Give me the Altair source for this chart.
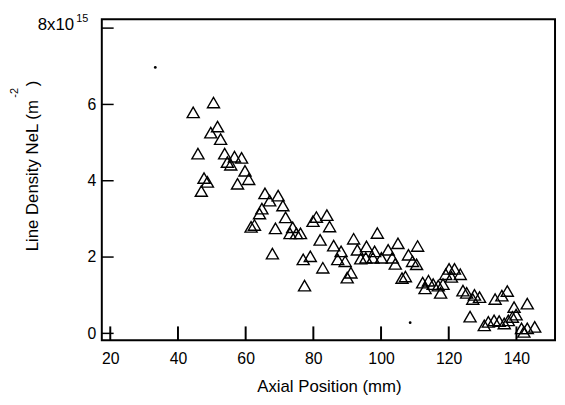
import altair as alt
import pandas as pd

# Triangles: axial position (mm) and line density (x10^15 m^-2)
pos_mm = [50.5, 44.5, 51.7, 49.7, 52.6, 45.9, 53.8, 56.7, 58.8, 54.6, 55.6, 59.8, 60.9, 57.6,
          47.7, 48.7, 46.9, 65.7, 69.6, 67.1, 71.0, 64.8, 64.1, 71.8, 62.6, 61.6, 68.8, 73.9,
          73.1, 75.0, 76.2, 67.9, 77.4, 80.9, 84.0, 79.9, 84.8, 98.9, 82.0, 91.9, 86.0, 105.0,
          110.8, 88.2, 93.0, 95.7, 98.1, 102.1, 77.0, 79.1, 87.2, 89.4, 94.0, 95.5, 97.6, 100.1,
          103.3, 108.1, 109.3, 110.5, 104.2, 82.8, 91.1, 90.0, 106.2, 107.2, 120.1, 121.7, 119.1,
          120.8, 123.4, 112.3, 114.0, 115.4, 116.9, 118.3, 113.0, 117.6, 124.2, 125.3, 127.6,
          129.1, 127.1, 133.7, 135.7, 137.3, 143.2, 139.3, 139.9, 138.8, 126.3, 130.5, 131.7,
          133.4, 134.9, 136.4, 137.6, 141.5, 143.2, 145.4, 142.2]
density = [6.05, 5.79, 5.42, 5.26, 5.09, 4.71, 4.71, 4.63, 4.60, 4.49, 4.42, 4.26, 4.04, 3.92,
           4.07, 3.97, 3.73, 3.67, 3.61, 3.48, 3.35, 3.27, 3.14, 3.04, 2.84, 2.79, 2.75, 2.78,
           2.62, 2.62, 2.62, 2.09, 1.25, 3.05, 3.10, 2.94, 2.80, 2.63, 2.45, 2.48, 2.30, 2.36,
           2.29, 2.15, 2.19, 2.28, 2.15, 2.19, 1.94, 2.02, 1.94, 1.89, 1.96, 1.98, 1.98, 1.98,
           1.98, 2.06, 1.89, 1.81, 1.82, 1.72, 1.59, 1.46, 1.45, 1.49, 1.69, 1.69, 1.55,
           1.48, 1.55, 1.33, 1.38, 1.29, 1.25, 1.29, 1.18, 1.06, 1.12, 1.06, 1.01,
           0.95, 0.90, 0.90, 0.99, 1.11, 0.78, 0.69, 0.49, 0.43, 0.44, 0.21, 0.30,
           0.34, 0.32, 0.26, 0.34, 0.13, 0.13, 0.17, 0.04]

# stray specks in the scan
speck_x = [33.3, 108.6]
speck_y = [6.97, 0.28]

x_ticks = [20, 40, 60, 80, 100, 120, 140]
y_ticks = [0, 2, 4, 6, 8]
y_labels = [0, 2, 4, 6]

W, H = 459, 325
xs = alt.Scale(domain=[17.5, 151.4], nice=False, zero=False)
ys = alt.Scale(domain=[-0.18, 8.23], nice=False, zero=False)

pts = pd.DataFrame({"x": pos_mm, "y": density})
specks = pd.DataFrame({"x": speck_x, "y": speck_y})
xt = pd.DataFrame({"x": x_ticks})
yt = pd.DataFrame({"y": y_ticks})
top = pd.DataFrame({"y": [8], "base": ["8x10"], "sup": ["15"]})

x_axis = alt.Axis(values=x_ticks, title="Axial Position (mm)", ticks=False, domain=False, grid=False,
                  labelFontSize=16, labelPadding=11, labelColor="black",
                  titleFontSize=17, titleFontWeight="normal", titleColor="black",
                  titleX=230, titleY=52, titleBaseline="alphabetic", titleAnchor="middle")
y_axis = alt.Axis(values=y_labels, title="Line Density NeL (m\u00a0\u00a0\u00a0)", ticks=False,
                  domain=False, grid=False, labelFontSize=16, labelPadding=6, labelColor="black",
                  titleFontSize=17, titleFontWeight="normal", titleColor="black",
                  titleX=-65, titleY=148, titleAngle=270, titleBaseline="alphabetic",
                  titleAlign="center")

X = alt.X("x:Q", scale=xs, axis=x_axis)
Y = alt.Y("y:Q", scale=ys, axis=y_axis)

points = alt.Chart(pts).mark_point(shape="triangle-up", filled=False, size=150,
                                   stroke="black", strokeWidth=1.4, opacity=1).encode(x=X, y=Y)

speck_layer = alt.Chart(specks).mark_circle(size=8, color="black", opacity=1).encode(x=X, y=Y)

xtick_layer = alt.Chart(xt).mark_rule(color="black", strokeWidth=2).encode(
    x=X, y=alt.value(H), y2=alt.value(H - 14),
)

ytick_layer = alt.Chart(yt).mark_rule(color="black", strokeWidth=1.5).encode(
    y=Y, x=alt.value(0), x2=alt.value(12),
)

top_base = alt.Chart(top).mark_text(align="right", baseline="middle", fontSize=17, dy=-3,
                                    color="black").encode(
    y=Y, x=alt.value(-28), text="base:N",
)
top_sup = alt.Chart(top).mark_text(align="left", baseline="alphabetic", fontSize=11, dy=-6,
                                   color="black").encode(
    y=Y, x=alt.value(-26), text="sup:N",
)
title_sup = alt.Chart(pd.DataFrame({"t": ["-2"]})).mark_text(
    angle=270, align="center", baseline="middle", fontSize=11, color="black").encode(
    x=alt.value(-87.5), y=alt.value(74.5), text="t:N",
)

chart = alt.layer(points, speck_layer, xtick_layer, ytick_layer, top_base, top_sup, title_sup).properties(
    width=W, height=H,
    autosize=alt.AutoSizeParams(type="none"),
    padding={"left": 95, "top": 9, "right": 2, "bottom": 55},
).configure(font="Liberation Sans").configure_view(
    stroke="black", strokeWidth=2
)

chart.save("out.html", embed_options={"renderer": "svg", "actions": False})
